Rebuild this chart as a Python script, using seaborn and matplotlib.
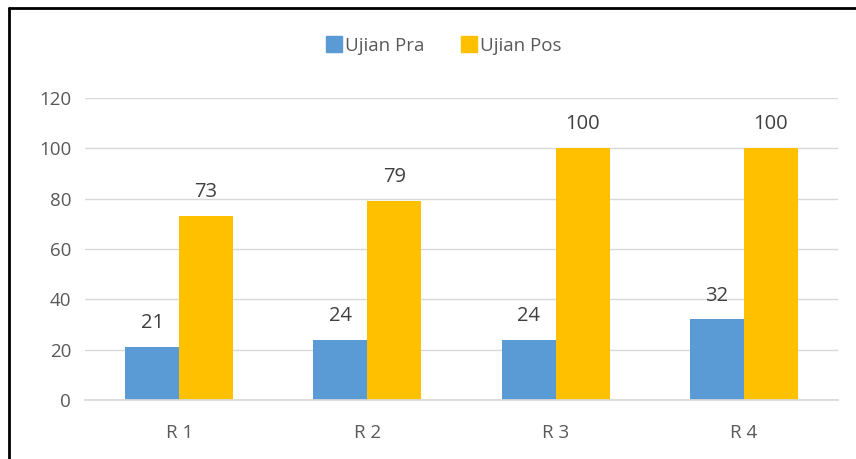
import matplotlib
matplotlib.use("Agg")
import matplotlib.pyplot as plt
import seaborn as sns
import pandas as pd
from matplotlib.lines import Line2D

# Data
rounds = ["R 1", "R 2", "R 3", "R 4"]
pra = [21, 24, 24, 32]
pos = [73, 79, 100, 100]
series = ["Ujian Pra", "Ujian Pos"]
colors = ["#5B9BD5", "#FFC000"]

df = pd.DataFrame({
    "round": rounds * 2,
    "score": pra + pos,
    "test": [series[0]] * 4 + [series[1]] * 4,
})

sns.set_theme(style="white")
plt.rcParams["font.family"] = ["Open Sans", "DejaVu Sans"]
plt.rcParams["ytick.major.pad"] = 10
plt.rcParams["xtick.major.pad"] = 17
text_col = "#595959"

fig = plt.figure(figsize=(8.56, 4.59), dpi=100)
ax = fig.add_axes([85 / 856, 1 - 400 / 459, (838 - 85) / 856, (400 - 98) / 459])

sns.barplot(data=df, x="round", y="score", hue="test", palette=colors,
            width=0.575, gap=0, saturation=1, linewidth=0, ax=ax, legend=False)

for cont in ax.containers:
    ax.bar_label(cont, padding=10, fontsize=14.5, color="#404040")

ax.set_ylim(0, 120)
ax.set_yticks(range(0, 121, 20))
ax.set_xlim(-0.5, 3.5)
ax.set_xlabel("")
ax.set_ylabel("")
ax.yaxis.grid(True, color="#D9D9D9", linewidth=1)
ax.set_axisbelow(True)
for s in ["top", "right", "left"]:
    ax.spines[s].set_visible(False)
ax.spines["bottom"].set_color("#D9D9D9")
ax.tick_params(axis="both", length=0, labelsize=13.5, colors=text_col)

handles = [Line2D([], [], marker="s", linestyle="", markersize=11,
                  color=c) for c in colors]
fig.legend(handles, series, loc="center", bbox_to_anchor=(443 / 856, 1 - 46 / 459),
           ncol=2, frameon=False, fontsize=13.5, labelcolor=text_col,
           handletextpad=0.1, columnspacing=1.9, handlelength=1)

# partial frame (top and left border)
fig.add_artist(Line2D([9 / 856, 9 / 856], [0, 1 - 7.5 / 459], color="black",
                      linewidth=2, transform=fig.transFigure))
fig.add_artist(Line2D([9 / 856, 1], [1 - 7.5 / 459, 1 - 7.5 / 459], color="black",
                      linewidth=2, transform=fig.transFigure))

fig.savefig("out.png", dpi=100)
